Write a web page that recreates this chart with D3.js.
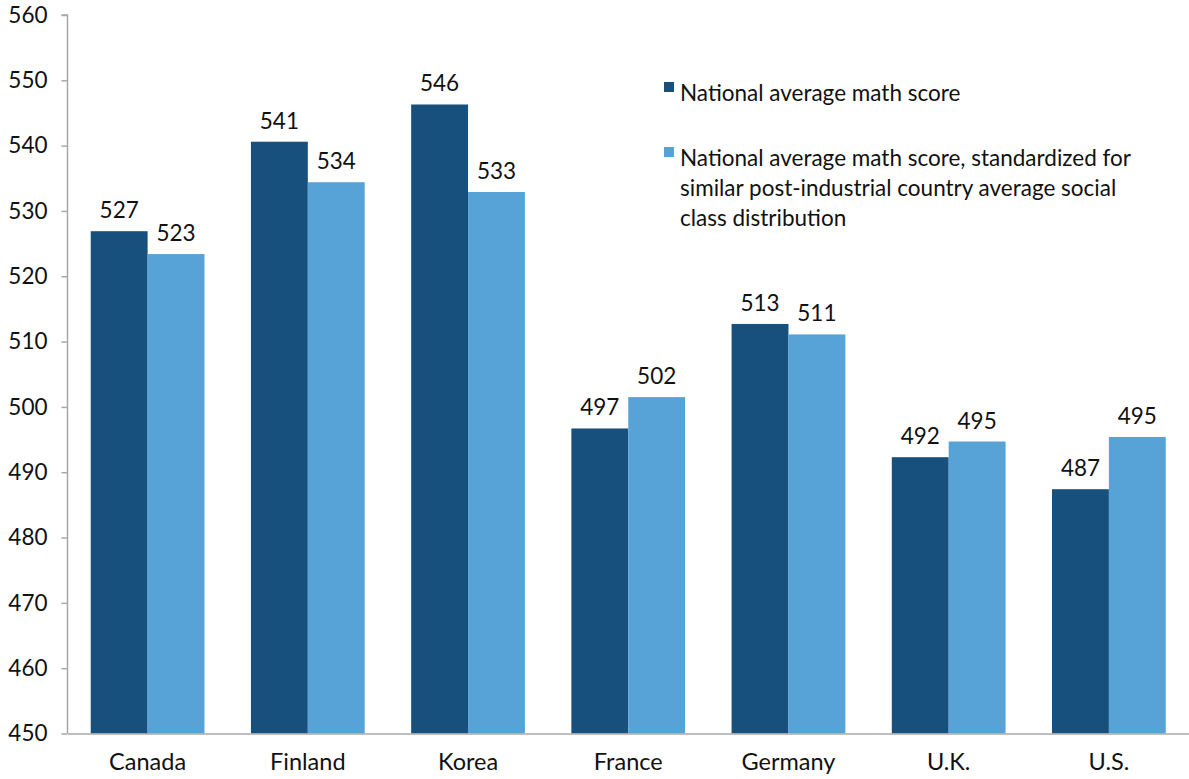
<!DOCTYPE html>
<html>
<head>
<meta charset="utf-8">
<script src="https://cdn.jsdelivr.net/npm/d3@7"></script>
<style>
  body { margin: 0; background: #fff; }
  svg text { font-family: Lato, "Open Sans", sans-serif; fill: #111; }
</style>
</head>
<body>
<svg width="1189" height="779"></svg>
<script>
const svg = d3.select('svg');
const width = 1189;
const height = 779;

// data
const countries = ['Canada', 'Finland', 'Korea', 'France', 'Germany', 'U.K.', 'U.S.'];
const nationalScore = [526.9, 540.6, 546.3, 496.7, 512.7, 492.3, 487.4];
const standardizedScore = [523.4, 534.4, 532.9, 501.5, 511.1, 494.7, 495.4];
const nationalLabels = ['527', '541', '546', '497', '513', '492', '487'];
const standardizedLabels = ['523', '534', '533', '502', '511', '495', '495'];
const yTicks = [450, 460, 470, 480, 490, 500, 510, 520, 530, 540, 550, 560];
const seriesNames = [
  ['National average math score'],
  ['National average math score, standardized for',
   'similar post-industrial country average social',
   'class distribution']
];
const colors = ['#174f7d', '#57a3d7'];

const margin = { top: 15, right: 0, bottom: 45.5, left: 67.5 };
const innerWidth = width - margin.left - margin.right;
const innerHeight = height - margin.top - margin.bottom;

const xScale = d3.scaleBand()
  .domain(countries)
  .range([0, innerWidth])
  .paddingInner(0.29)
  .paddingOuter(0.145);

const subScale = d3.scaleBand()
  .domain([0, 1])
  .range([0, xScale.bandwidth()]);

const yScale = d3.scaleLinear()
  .domain([450, 560])
  .range([innerHeight, 0]);

const g = svg.append('g')
  .attr('transform', `translate(${margin.left},${margin.top})`);

// bars
const rows = countries.map((c, i) => ({
  country: c,
  values: [
    { s: 0, v: nationalScore[i], label: nationalLabels[i] },
    { s: 1, v: standardizedScore[i], label: standardizedLabels[i] }
  ]
}));

const groups = g.selectAll('.country').data(rows)
  .enter().append('g')
    .attr('class', 'country')
    .attr('transform', d => `translate(${xScale(d.country)},0)`);

groups.selectAll('rect').data(d => d.values)
  .enter().append('rect')
    .attr('x', d => subScale(d.s))
    .attr('width', subScale.bandwidth())
    .attr('y', d => yScale(d.v))
    .attr('height', d => innerHeight - yScale(d.v))
    .attr('fill', d => colors[d.s]);

groups.selectAll('.value').data(d => d.values)
  .enter().append('text')
    .attr('class', 'value')
    .attr('x', d => subScale(d.s) + subScale.bandwidth() / 2)
    .attr('y', d => yScale(d.v) - 13)
    .attr('text-anchor', 'middle')
    .attr('font-size', 22.5)
    .text(d => d.label);

// y axis
const yAxisG = g.append('g')
  .call(d3.axisLeft(yScale).tickValues(yTicks).tickSize(6).tickPadding(14));
yAxisG.selectAll('text').attr('font-size', 22.5).style('font-family', 'Lato, sans-serif').attr('fill', '#111');
yAxisG.selectAll('line').attr('stroke', '#a8a8a8').attr('stroke-width', 1.5);
yAxisG.select('.domain').attr('stroke', '#a8a8a8').attr('stroke-width', 1.5)
  .attr('d', `M-6,0H0V${innerHeight}`);

// x axis
const xAxisG = g.append('g')
  .attr('transform', `translate(0,${innerHeight})`)
  .call(d3.axisBottom(xScale).tickSize(0).tickPadding(20));
xAxisG.select('.domain').attr('stroke', '#a8a8a8').attr('stroke-width', 1.5);
xAxisG.selectAll('text').attr('font-size', 23.5).style('font-family', 'Lato, sans-serif').attr('fill', '#111');

// legend
const legendTop = [80, 145];
const legend = svg.append('g').attr('transform', 'translate(664,0)');
seriesNames.forEach((lines, i) => {
  legend.append('rect')
    .attr('x', 0).attr('y', legendTop[i] + 2)
    .attr('width', 10).attr('height', 10)
    .attr('fill', colors[i]);
  const t = legend.append('text')
    .attr('x', 16).attr('y', legendTop[i] + 21)
    .attr('font-size', 22.5);
  lines.forEach((line, j) => {
    t.append('tspan').attr('x', 16).attr('dy', j === 0 ? 0 : 30).text(line);
  });
});
</script>
</body>
</html>
